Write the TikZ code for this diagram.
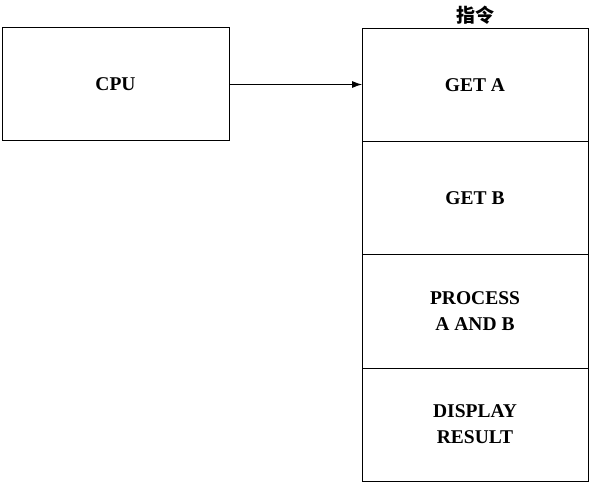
\documentclass[tikz,border=0pt]{standalone}
\usepackage{fontspec}
\setmainfont{Liberation Serif}
\newfontfamily\cjk{Noto Sans CJK SC}
\usetikzlibrary{positioning,arrows.meta}

\tikzset{
  box/.style={draw,line width=1pt,minimum width=226pt,minimum height=113pt,
    inner sep=0pt,outer sep=0pt,align=center,font=\fontsize{19.5}{26}\selectfont\bfseries},
}

\begin{document}
\begin{tikzpicture}[x=1pt,y=-1pt]
\useasboundingbox (0,0) rectangle (590,484);

\node[box,minimum width=227pt] (cpu) at (115.5,84.5) {CPU};

\node[box] (geta) at (475,85.5) {GET A};
\node[box,below=0pt of geta] (getb) {GET B};
\node[box,below=0pt of getb] (proc) {PROCESS\\A AND B};
\node[box,below=0pt of proc] (disp) {DISPLAY\\RESULT};

\node[font=\cjk\bfseries\fontsize{19}{20}\selectfont,above=1pt of geta] (title) {指令};

\draw[-{Latex[length=10pt,width=7pt]},line width=0.8pt] (cpu.east) -- (cpu.east -| geta.west);
\end{tikzpicture}
\end{document}
